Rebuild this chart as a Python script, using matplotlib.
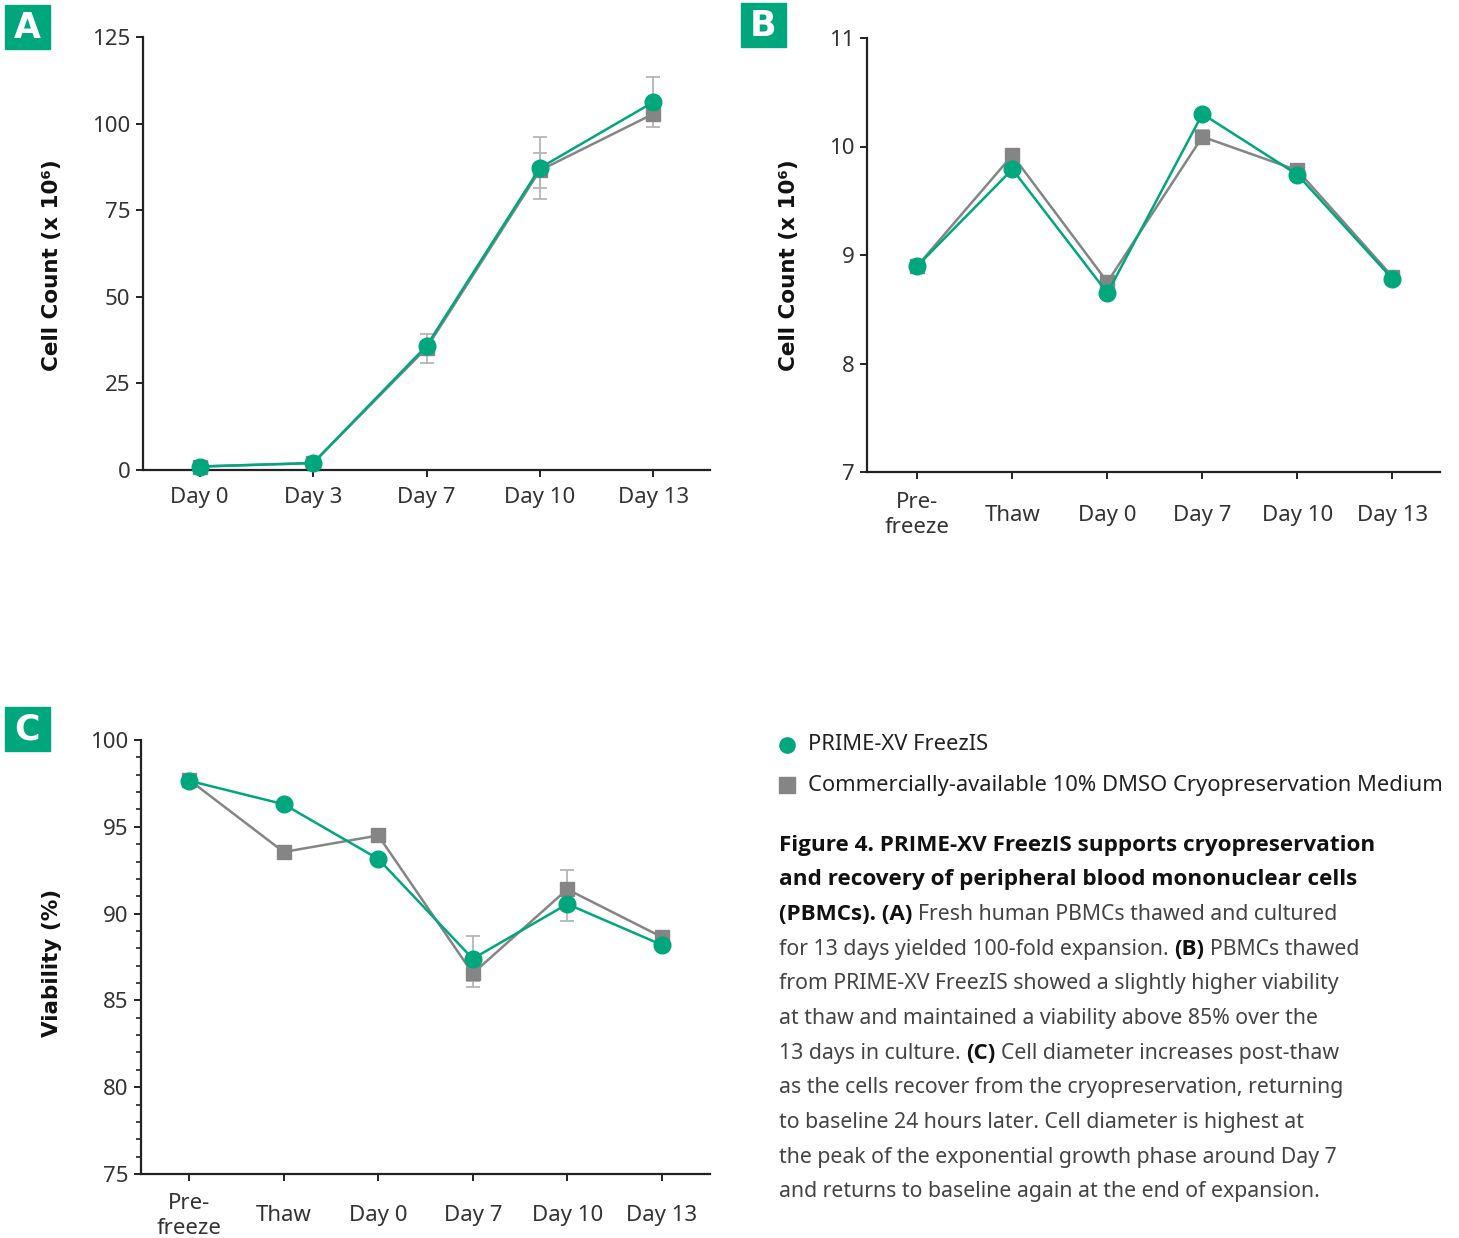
import numpy as np
import matplotlib
matplotlib.use('Agg')
import matplotlib.pyplot as plt
from matplotlib.patches import Rectangle
from matplotlib import font_manager

# Panel A - cell count during expansion
labels_a = ['Day 0', 'Day 3', 'Day 7', 'Day 10', 'Day 13']
freezis_a = [1.0, 2.0, 35.8, 87.2, 106.2]
freezis_a_err = [0, 0, 0, 8.9, 7.2]
dmso_a = [1.0, 2.0, 35.2, 86.5, 102.8]
dmso_a_err = [0, 0, 4.2, 5.0, 0]

# Panel B - cell count around freeze / thaw
labels_b = ['Pre-\nfreeze', 'Thaw', 'Day 0', 'Day 7', 'Day 10', 'Day 13']
freezis_b = [8.90, 9.79, 8.65, 10.30, 9.74, 8.78]
freezis_b_err = [0, 0, 0, 0, 0, 0]
dmso_b = [8.90, 9.92, 8.75, 10.09, 9.78, 8.80]
dmso_b_err = [0, 0, 0, 0.06, 0, 0]

# Panel C - viability
labels_c = ['Pre-\nfreeze', 'Thaw', 'Day 0', 'Day 7', 'Day 10', 'Day 13']
freezis_c = [97.65, 96.3, 93.15, 87.4, 90.55, 88.2]
freezis_c_err = [0, 0, 0, 1.3, 1.0, 0]
dmso_c = [97.7, 93.55, 94.5, 86.55, 91.4, 88.65]
dmso_c_err = [0, 0, 0, 0.8, 1.1, 0]

legend_labels = ['PRIME-XV FreezIS', 'Commercially-available 10% DMSO Cryopreservation Medium']

caption_lines = [
    [('Figure 4. PRIME-XV FreezIS supports cryopreservation', True)],
    [('and recovery of peripheral blood mononuclear cells', True)],
    [('(PBMCs). (A)', True), ('Fresh human PBMCs thawed and cultured', False)],
    [('for 13 days yielded 100-fold expansion.', False), ('(B)', True), ('PBMCs thawed', False)],
    [('from PRIME-XV FreezIS showed a slightly higher viability', False)],
    [('at thaw and maintained a viability above 85% over the', False)],
    [('13 days in culture.', False), ('(C)', True), ('Cell diameter increases post-thaw', False)],
    [('as the cells recover from the cryopreservation, returning', False)],
    [('to baseline 24 hours later. Cell diameter is highest at', False)],
    [('the peak of the exponential growth phase around Day 7', False)],
    [('and returns to baseline again at the end of expansion.', False)],
]

GREEN = '#00A77D'
GREY = '#858585'
ERR = '#b5b5b5'
W, H = 1459, 1238


def pick_bold_family(candidates):
    """First family that really has a bold face installed."""
    for fam in candidates:
        path = font_manager.findfont(font_manager.FontProperties(family=fam, weight='bold'),
                                     fallback_to_default=False)
        if 'bold' in path.lower() and fam.split()[0].lower() in path.lower().replace('-', ''):
            return fam
    return 'DejaVu Sans'


REGULAR = 'Noto Sans'
BOLD = pick_bold_family(['Open Sans', 'Lato', 'Noto Sans', 'Roboto'])
plt.rcParams['font.family'] = [REGULAR, 'DejaVu Sans']

fig = plt.figure(figsize=(W / 100, H / 100), dpi=100)


def fx(px):
    return px / W


def fy(py):
    return 1 - py / H


def box(left, top, right, bottom):
    """Axes rectangle from pixel edges."""
    return [fx(left), fy(bottom), fx(right) - fx(left), fy(top) - fy(bottom)]


def draw_panel(rect, labels, green, green_err, grey, grey_err, ylim, yticks, xlim,
               minor=None, label_va='top', label_pad=6):
    ax = fig.add_axes(rect)
    x = np.arange(len(labels))
    ax.errorbar(x, grey, yerr=grey_err, fmt='none', ecolor=ERR, capsize=5,
                elinewidth=1.3, capthick=1.3, zorder=1)
    ax.errorbar(x, green, yerr=green_err, fmt='none', ecolor=ERR, capsize=5,
                elinewidth=1.3, capthick=1.3, zorder=1)
    ax.plot(x, grey, color=GREY, marker='s', ms=10.5, lw=1.8, zorder=2, clip_on=False)
    ax.plot(x, green, color=GREEN, marker='o', ms=12, lw=1.8, zorder=3, clip_on=False)

    ax.set_xlim(*xlim)
    ax.set_ylim(*ylim)
    ax.set_yticks(yticks)
    if minor is not None:
        ax.set_yticks(minor, minor=True)
    ax.set_xticks(x)
    ax.set_xticklabels(labels, va=label_va, linespacing=1.25)

    for side in ['top', 'right']:
        ax.spines[side].set_visible(False)
    for side in ['left', 'bottom']:
        ax.spines[side].set_linewidth(1.6)
        ax.spines[side].set_color('#222222')
    ax.tick_params(axis='both', direction='out', length=5, width=1.4,
                   color='#222222', labelsize=16, labelcolor='#333333')
    ax.tick_params(axis='y', pad=4)
    ax.tick_params(axis='y', which='minor', length=3.5, width=1.2, color='#222222')
    ax.tick_params(axis='x', pad=label_pad)
    return ax


# Panel A
draw_panel(box(143, 37, 710, 470), labels_a, freezis_a, freezis_a_err, dmso_a, dmso_a_err,
           (0, 125), [0, 25, 50, 75, 100, 125], (-0.5, 4.5), label_pad=7)

# Panel B
draw_panel(box(867, 38, 1440, 472), labels_b, freezis_b, freezis_b_err, dmso_b, dmso_b_err,
           (7, 11), [7, 8, 9, 10, 11], (-0.53, 5.5), label_va='center', label_pad=26)

# Panel C
draw_panel(box(141, 740, 710, 1174), labels_c, freezis_c, freezis_c_err, dmso_c, dmso_c_err,
           (75, 100), [75, 80, 85, 90, 95, 100], (-0.51, 5.51),
           minor=np.arange(75, 101, 1), label_va='center', label_pad=25)

# axis titles
ylab = dict(rotation=90, ha='center', va='center', fontsize=15.5, fontweight='bold',
            color='#111111', family=['DejaVu Sans'])
fig.text(fx(52), fy(265), 'Cell Count (x 10\u2076)', **ylab)
fig.text(fx(789), fy(265), 'Cell Count (x 10\u2076)', **ylab)
fig.text(fx(52), fy(963), 'Viability (%)', **ylab)

# panel letters
for letter, (lx, ly) in zip('ABC', [(5, 5), (741, 3), (5, 707)]):
    fig.patches.append(Rectangle((fx(lx), fy(ly + 44)), 45 / W, 44 / H,
                                 transform=fig.transFigure, color=GREEN, zorder=5))
    fig.text(fx(lx + 22.5), fy(ly + 23), letter, ha='center', va='center',
             color='white', fontsize=25, fontweight='bold', family=['DejaVu Sans'], zorder=6)

# legend
fig.lines.append(plt.Line2D([fx(787)], [fy(745)], marker='o', ms=11, color=GREEN,
                            transform=fig.transFigure))
fig.lines.append(plt.Line2D([fx(787)], [fy(785)], marker='s', ms=11, color=GREY,
                            transform=fig.transFigure))
fig.text(fx(808), fy(745), legend_labels[0], ha='left', va='center', fontsize=15.8, color='#222222')
fig.text(fx(808), fy(785), legend_labels[1], ha='left', va='center', fontsize=15.8, color='#222222')

# caption with mixed bold / regular pieces
renderer = fig.canvas.get_renderer()
cap_size = 15.3
bold_size = 16.2
probe = fig.text(0, 0, 'x x', fontsize=cap_size)
w2 = probe.get_window_extent(renderer).width
probe.set_text('xx')
space_w = w2 - probe.get_window_extent(renderer).width
probe.remove()

y0 = 845
for i, line in enumerate(caption_lines):
    xpos = 779
    ypos = y0 + i * 34.7
    for text, bold in line:
        t = fig.text(fx(xpos), fy(ypos), text, ha='left', va='center',
                     fontsize=bold_size if bold else cap_size,
                     fontweight='bold' if bold else 'normal',
                     family=[BOLD, 'DejaVu Sans'] if bold else [REGULAR, 'DejaVu Sans'],
                     color='#111111' if bold else '#444444')
        xpos += t.get_window_extent(renderer).width + space_w

fig.savefig('out.png', dpi=100)
